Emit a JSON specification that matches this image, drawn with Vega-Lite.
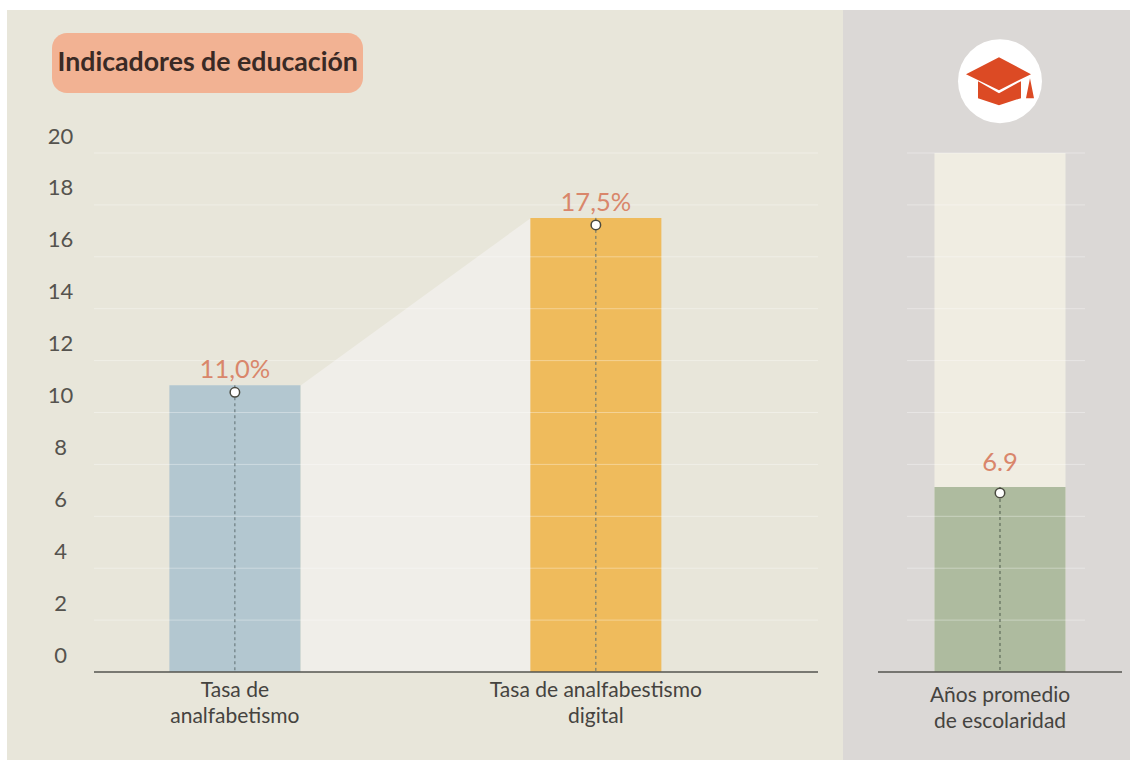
{
"$schema":"https://vega.github.io/schema/vega-lite/v6.json",
"background":"#ffffff",
"padding":{"left":7,"top":10,"right":0,"bottom":0},
"spacing":-2,
"config":{"view":{"stroke":null},"text":{"font":"Lato"},"axis":{"labelFont":"Lato"}},
"datasets":{
"izq":[
{"indicador":"Tasa de analfabetismo","valor":11.05,"etiqueta":"11,0%","nombre":"Tasa de\nanalfabetismo"},
{"indicador":"Tasa de analfabetismo digital","valor":17.5,"etiqueta":"17,5%","nombre":"Tasa de analfabestismo\ndigital"}],
"der":[{"indicador":"Años promedio de escolaridad","valor":7.13,"tope":20,"etiqueta":"6.9","nombre":"Años promedio\nde escolaridad"}],
"conector":[{"p":294,"v":11.05},{"p":524,"v":17.5}],
"rejilla":[{"v":2},{"v":4},{"v":6},{"v":8},{"v":10},{"v":12},{"v":14},{"v":16},{"v":18},{"v":20}]
},
"hconcat":[
{
"width":836,"height":750,
"view":{"fill":"#E8E6DA","stroke":null},
"resolve":{"scale":{"x":"independent"}},
"layer":[
{"data":{"name":"rejilla"},"mark":{"type":"rule","color":"#ffffff","opacity":0},
 "encoding":{"y":{"datum":0,"type":"quantitative","scale":{"domain":[-3.391,25.511],"nice":false,"zero":false},"title":null,
   "axis":{"values":[0,2,4,6,8,10,12,14,16,18,20],"grid":false,"domain":false,"ticks":false,"title":null,"offset":-53,"labelPadding":0,"labelAlign":"center","labelFontSize":22,"labelColor":"#55534E","labelOffset":-17,"labelFont":"Lato"}}}},
{"data":{"name":"conector"},"mark":{"type":"area","color":"#F0EEE9"},
 "encoding":{"x":{"field":"p","type":"quantitative","scale":{"domain":[0,836]},"axis":null},
  "y":{"field":"v","type":"quantitative","scale":{"domain":[-3.391,25.511],"nice":false,"zero":false}},"y2":{"datum":0}}},
{"data":{"name":"izq"},"mark":{"type":"bar"},
 "encoding":{"x":{"field":"indicador","type":"nominal","sort":null,"axis":null,"scale":{"type":"band","paddingInner":0.637,"paddingOuter":0.4765,"align":0.472}},
  "y":{"field":"valor","type":"quantitative","scale":{"domain":[-3.391,25.511],"nice":false,"zero":false}},"y2":{"datum":0},
  "color":{"field":"indicador","type":"nominal","legend":null,"sort":null,"scale":{"range":["#B3C7D0","#EFBB5C"]}}}},
{"data":{"name":"rejilla"},"mark":{"type":"rule","color":"#ffffff","opacity":0.35,"strokeWidth":1},
 "encoding":{"x":{"datum":87,"type":"quantitative","scale":{"domain":[0,836]},"axis":null},"x2":{"datum":811},
  "y":{"field":"v","type":"quantitative","scale":{"domain":[-3.391,25.511],"nice":false,"zero":false}}}},
{"mark":{"type":"rule","color":"#55554F","strokeWidth":1.5},"data":{"values":[{}]},
 "encoding":{"x":{"datum":87,"type":"quantitative","scale":{"domain":[0,836]},"axis":null},"x2":{"datum":811},
  "y":{"datum":0,"type":"quantitative","scale":{"domain":[-3.391,25.511],"nice":false,"zero":false}}}},
{"data":{"name":"izq"},"mark":{"type":"rule","color":"#5F6E70","strokeWidth":1,"strokeDash":[3,3]},
 "encoding":{"x":{"field":"indicador","type":"nominal","sort":null,"axis":null,"scale":{"type":"band","paddingInner":0.637,"paddingOuter":0.4765,"align":0.472},"bandPosition":0.5},
  "y":{"field":"valor","type":"quantitative","scale":{"domain":[-3.391,25.511],"nice":false,"zero":false}},"y2":{"datum":0}}},
{"data":{"name":"izq"},"mark":{"type":"point","filled":true,"fill":"#ffffff","stroke":"#4A4A40","strokeWidth":1.5,"opacity":1,"size":90,"yOffset":7},
 "encoding":{"x":{"field":"indicador","type":"nominal","sort":null,"axis":null,"scale":{"type":"band","paddingInner":0.637,"paddingOuter":0.4765,"align":0.472},"bandPosition":0.5},
  "y":{"field":"valor","type":"quantitative","scale":{"domain":[-3.391,25.511],"nice":false,"zero":false}}}},
{"data":{"name":"izq"},"mark":{"type":"text","font":"Lato","fontSize":25.5,"color":"#D9866B","baseline":"middle","yOffset":-15},
 "encoding":{"x":{"field":"indicador","type":"nominal","sort":null,"axis":null,"scale":{"type":"band","paddingInner":0.637,"paddingOuter":0.4765,"align":0.472},"bandPosition":0.5},
  "y":{"field":"valor","type":"quantitative","scale":{"domain":[-3.391,25.511],"nice":false,"zero":false}},"text":{"field":"etiqueta"}}},
{"data":{"name":"izq"},"mark":{"type":"text","font":"Lato","fontSize":21,"color":"#45433F","baseline":"alphabetic","lineBreak":"\n","lineHeight":26},
 "encoding":{"x":{"field":"indicador","type":"nominal","sort":null,"axis":null,"scale":{"type":"band","paddingInner":0.637,"paddingOuter":0.4765,"align":0.472},"bandPosition":0.5},
  "y":{"datum":-0.97,"type":"quantitative","scale":{"domain":[-3.391,25.511],"nice":false,"zero":false}},"text":{"field":"nombre"}}},
{"data":{"values":[{"t":"Indicadores de educación"}]},"mark":{"type":"rect","color":"#F2B293","cornerRadius":15},
 "encoding":{"x":{"datum":45,"type":"quantitative","scale":{"domain":[0,836]},"axis":null},"x2":{"datum":356},
  "y":{"datum":24.62,"type":"quantitative","scale":{"domain":[-3.391,25.511],"nice":false,"zero":false}},"y2":{"datum":22.31}}},
{"data":{"values":[{"t":"Indicadores de educación"}]},"mark":{"type":"text","font":"Lato","fontWeight":"bold","fontSize":26.7,"color":"#3A2A25","align":"left","baseline":"middle"},
 "encoding":{"x":{"datum":50.5,"type":"quantitative","scale":{"domain":[0,836]},"axis":null},
  "y":{"datum":23.47,"type":"quantitative","scale":{"domain":[-3.391,25.511],"nice":false,"zero":false}},"text":{"field":"t"}}}
]},
{
"width":287,"height":750,
"view":{"fill":"#DBD8D6","stroke":null},
"resolve":{"scale":{"x":"independent"}},
"layer":[
{"data":{"name":"der"},"mark":{"type":"bar","color":"#F0EDE2"},
 "encoding":{"x":{"field":"indicador","type":"nominal","axis":null,"scale":{"type":"band","paddingInner":0,"paddingOuter":0.595,"align":0.5865}},
  "y":{"field":"tope","type":"quantitative","axis":null,"scale":{"domain":[-3.391,25.511],"nice":false,"zero":false}},"y2":{"datum":0}}},
{"data":{"name":"der"},"mark":{"type":"bar","color":"#AEBB9F"},
 "encoding":{"x":{"field":"indicador","type":"nominal","axis":null,"scale":{"type":"band","paddingInner":0,"paddingOuter":0.595,"align":0.5865}},
  "y":{"field":"valor","type":"quantitative","axis":null,"scale":{"domain":[-3.391,25.511],"nice":false,"zero":false}},"y2":{"datum":0}}},
{"data":{"name":"rejilla"},"mark":{"type":"rule","color":"#ffffff","opacity":0.35},
 "encoding":{"x":{"datum":64,"type":"quantitative","scale":{"domain":[0,287]},"axis":null},"x2":{"datum":242},
  "y":{"field":"v","type":"quantitative","axis":null,"scale":{"domain":[-3.391,25.511],"nice":false,"zero":false}}}},
{"mark":{"type":"rule","color":"#55554F","strokeWidth":1.5},"data":{"values":[{}]},
 "encoding":{"x":{"datum":35,"type":"quantitative","scale":{"domain":[0,287]},"axis":null},"x2":{"datum":279},
  "y":{"datum":0,"type":"quantitative","axis":null,"scale":{"domain":[-3.391,25.511],"nice":false,"zero":false}}}},
{"data":{"name":"der"},"mark":{"type":"rule","color":"#4F5B4C","strokeWidth":1,"strokeDash":[3,3]},
 "encoding":{"x":{"field":"indicador","type":"nominal","axis":null,"scale":{"type":"band","paddingInner":0,"paddingOuter":0.595,"align":0.5865},"bandPosition":0.5},
  "y":{"field":"valor","type":"quantitative","axis":null,"scale":{"domain":[-3.391,25.511],"nice":false,"zero":false}},"y2":{"datum":0}}},
{"data":{"name":"der"},"mark":{"type":"point","filled":true,"fill":"#ffffff","stroke":"#4A4A40","strokeWidth":1.5,"opacity":1,"size":90,"yOffset":6},
 "encoding":{"x":{"field":"indicador","type":"nominal","axis":null,"scale":{"type":"band","paddingInner":0,"paddingOuter":0.595,"align":0.5865},"bandPosition":0.5},
  "y":{"field":"valor","type":"quantitative","axis":null,"scale":{"domain":[-3.391,25.511],"nice":false,"zero":false}}}},
{"data":{"name":"der"},"mark":{"type":"text","font":"Lato","fontSize":25.5,"color":"#D9866B","baseline":"middle","yOffset":-24},
 "encoding":{"x":{"field":"indicador","type":"nominal","axis":null,"scale":{"type":"band","paddingInner":0,"paddingOuter":0.595,"align":0.5865},"bandPosition":0.5},
  "y":{"field":"valor","type":"quantitative","axis":null,"scale":{"domain":[-3.391,25.511],"nice":false,"zero":false}},"text":{"field":"etiqueta"}}},
{"data":{"name":"der"},"mark":{"type":"text","font":"Lato","fontSize":21,"color":"#45433F","baseline":"alphabetic","lineBreak":"\n","lineHeight":26},
 "encoding":{"x":{"field":"indicador","type":"nominal","axis":null,"scale":{"type":"band","paddingInner":0,"paddingOuter":0.595,"align":0.5865},"bandPosition":0.5},
  "y":{"datum":-1.156,"type":"quantitative","axis":null,"scale":{"domain":[-3.391,25.511],"nice":false,"zero":false}},"text":{"field":"nombre"}}},
{"data":{"name":"der"},"mark":{"type":"point","filled":true,"fill":"#ffffff","opacity":1,"size":7056,"shape":"circle"},
 "encoding":{"x":{"field":"indicador","type":"nominal","axis":null,"scale":{"type":"band","paddingInner":0,"paddingOuter":0.595,"align":0.5865},"bandPosition":0.5},
  "y":{"datum":22.77,"type":"quantitative","axis":null,"scale":{"domain":[-3.391,25.511],"nice":false,"zero":false}}}},
{"data":{"name":"der"},"mark":{"type":"point","filled":true,"fill":"#DC4A24","opacity":1,"size":25600,"shape":"M-.425 -.0875L-.0125 -.3L.3875 -.0875L-.0125 .1125ZM-.275 0L-.0125 .15L.2625 0L.2625 .2125L-.0125 .3L-.275 .2125ZM.325 .2125L.425 .2125L.375 -.0375Z"},
 "encoding":{"x":{"field":"indicador","type":"nominal","axis":null,"scale":{"type":"band","paddingInner":0,"paddingOuter":0.595,"align":0.5865},"bandPosition":0.5},
  "y":{"datum":22.77,"type":"quantitative","axis":null,"scale":{"domain":[-3.391,25.511],"nice":false,"zero":false}}}}
]}
]
}
